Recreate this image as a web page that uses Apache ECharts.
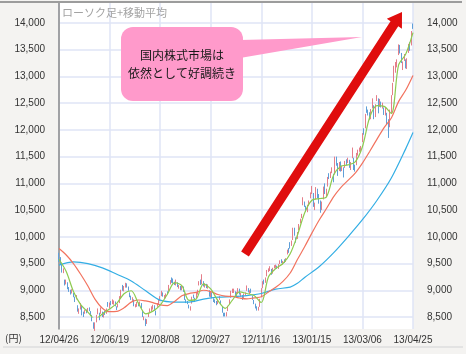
<!DOCTYPE html>
<html>
<head>
<meta charset="utf-8">
<script src="https://cdn.jsdelivr.net/npm/echarts@6/dist/echarts.min.js"></script>
<style>
  html, body { margin: 0; padding: 0; background: #f4f3f1; }
  #chart { width: 466px; height: 354px; }
</style>
</head>
<body>
<div id="chart"></div>
<script>
// tick labels shown under the plot (every 35 trading days)
let dateTicks = ['12/04/26', '12/06/19', '12/08/08', '12/09/27', '12/11/16', '13/01/15', '13/03/06', '13/04/25'];
let yTicks = [8500, 9000, 9500, 10000, 10500, 11000, 11500, 12000, 12500, 13000, 13500, 14000];

// daily candles: [open, close, low, high]
let candles = [
  [9650,9561,9530,9700],[9580,9520,9480,9620],[9470,9350,9330,9490],[9360,9380,9320,9410],[9180,9119,9090,9200],
  [9140,9181,9110,9200],[9120,9045,9020,9150],[9030,9009,8970,9060],[9000,8953,8920,9010],[8970,8973,8940,9020],
  [8930,8900,8870,8950],[8860,8801,8780,8880],[8850,8876,8830,8910],[8700,8611,8600,8720],[8620,8633,8560,8660],
  [8660,8729,8640,8760],[8700,8556,8530,8710],[8570,8563,8500,8600],[8580,8593,8560,8630],[8610,8593,8570,8640],
  [8600,8657,8590,8670],[8660,8633,8610,8680],[8600,8542,8520,8610],[8520,8440,8420,8540],[8380,8295,8280,8400],
  [8290,8383,8240,8400],[8420,8533,8400,8540],[8560,8639,8550,8660],[8560,8459,8440,8580],[8580,8624,8560,8680],
  [8560,8536,8500,8600],[8510,8568,8490,8590],[8600,8568,8540,8620],[8590,8647,8560,8660],[8750,8721,8690,8780],
  [8680,8752,8660,8770],[8770,8753,8720,8800],[8760,8824,8740,8830],[8750,8798,8730,8810],[8770,8734,8700,8790],
  [8690,8663,8630,8700],[8700,8730,8680,8750],[8770,8874,8760,8890],[8850,9006,8840,9010],[9080,9003,8990,9100],
  [8990,9066,8980,9080],[9080,9104,9050,9140],[9100,9079,9050,9130],[9060,9020,8990,9070],[8950,8896,8870,8960],
  [8880,8857,8820,8900],[8830,8851,8800,8870],[8820,8720,8700,8830],[8710,8724,8680,8740],[8700,8755,8690,8780],
  [8740,8726,8700,8770],[8740,8766,8720,8790],[8750,8670,8660,8760],[8600,8508,8500,8610],[8460,8488,8440,8510],
  [8460,8365,8330,8470],[8380,8443,8370,8460],[8520,8566,8500,8580],[8620,8636,8590,8660],[8640,8695,8610,8700],
  [8660,8711,8640,8730],[8700,8640,8620,8720],[8600,8555,8530,8620],[8700,8726,8690,8760],[8760,8804,8740,8820],
  [8810,8881,8800,8890],[8900,8978,8890,8990],[8950,8891,8880,8960],[8880,8885,8840,8910],[8870,8929,8850,8940],
  [8960,8947,8920,8980],[8990,9092,8980,9100],[9140,9162,9110,9190],[9180,9171,9140,9240],[9190,9156,9130,9220],
  [9140,9131,9100,9160],[9100,9178,9090,9200],[9130,9070,9060,9150],[9050,9085,9030,9100],[9060,9033,9000,9080],
  [9020,9073,9000,9090],[9060,8983,8970,9070],[8930,8839,8820,8940],[8800,8783,8760,8830],[8790,8775,8740,8800],
  [8720,8679,8660,8730],[8640,8680,8620,8700],[8760,8871,8750,8880],[8900,8869,8850,8920],[8840,8807,8780,8860],
  [8860,8959,8850,8970],[8940,8995,8920,9010],[9100,9159,9090,9170],[9180,9123,9100,9200],[9130,9232,9110,9300],
  [9150,9086,9070,9170],[9080,9110,9050,9130],[9100,9069,9040,9120],[9060,9091,9030,9110],[8990,8906,8880,9000],
  [8900,8949,8870,8970],[8950,8870,8850,8960],[8830,8797,8780,8850],[8810,8786,8760,8830],[8790,8746,8720,8800],
  [8760,8824,8740,8840],[8850,8863,8820,8890],[8790,8769,8740,8810],[8680,8596,8580,8690],[8560,8546,8510,8580],
  [8560,8534,8510,8580],[8520,8577,8510,8590],[8620,8701,8610,8710],[8750,8807,8740,8830],[8870,8983,8860,8990],
  [8960,9002,8950,9030],[8990,9010,8950,9030],[8960,8936,8900,8980],[8900,8955,8880,8970],[8970,9015,8950,9040],
  [9010,8933,8920,9030],[8910,8929,8880,8950],[8890,8841,8820,8910],[8850,8928,8840,8940],[8930,8946,8900,8960],
  [9000,9051,8990,9090],[9020,8975,8960,9040],[8960,8975,8930,9000],[9000,8972,8950,9030],[8890,8837,8820,8900],
  [8800,8757,8740,8820],[8740,8676,8660,8750],[8690,8661,8620,8700],[8650,8664,8620,8690],[8700,8829,8690,8840],
  [8880,9024,8870,9040],[9050,9153,9040,9170],[9180,9142,9110,9200],[9160,9222,9140,9240],[9270,9366,9260,9380],
  [9380,9388,9340,9410],[9380,9423,9360,9450],[9380,9308,9290,9400],[9330,9400,9310,9420],[9440,9446,9410,9470],
  [9450,9458,9420,9480],[9440,9432,9400,9460],[9420,9468,9400,9490],[9500,9545,9490,9560],[9560,9527,9510,9580],
  [9490,9533,9480,9550],[9560,9525,9510,9580],[9540,9581,9530,9600],[9680,9743,9670,9760],[9760,9737,9700,9790],
  [9880,9828,9780,9900],[9850,9923,9830,9930],[9950,10160,9940,10170],[10150,10039,10020,10170],[9960,9940,9890,9990],
  [9980,10080,9960,10090],[10130,10230,10120,10240],[10280,10322,10250,10340],[10380,10395,10350,10430],[10600,10688,10590,10740],
  [10640,10599,10560,10660],[10540,10508,10470,10580],[10480,10578,10460,10600],[10590,10652,10580,10680],[10760,10801,10720,10830],
  [10830,10879,10800,10950],[10800,10600,10560,10820],[10570,10609,10500,10640],[10720,10913,10700,10930],[10880,10747,10720,10900],
  [10760,10709,10620,10800],[10660,10486,10450,10680],[10540,10620,10500,10660],[10720,10926,10700,10940],[10950,10824,10800,11000],
  [10800,10866,10760,10900],[10960,11113,10940,11120],[11160,11138,11080,11190],[11120,11191,11100,11220],[11250,11260,11190,11300],
  [11170,11046,11020,11180],[11180,11463,11170,11500],[11470,11357,11330,11500],[11330,11153,11140,11380],[11240,11370,11230,11400],
  [11390,11251,11220,11410],[11280,11307,11230,11330],[11260,11173,11110,11300],[11300,11407,11290,11420],[11440,11372,11340,11450],
  [11400,11468,11380,11480],[11420,11309,11290,11440],[11290,11385,11250,11400],[11480,11662,11470,11670],[11440,11398,11250,11480],
  [11300,11254,11220,11350],[11350,11559,11340,11570],[11580,11606,11520,11630],[11640,11652,11590,11670],[11650,11683,11600,11700],
  [11780,11932,11770,11940],[11990,11968,11910,12030],[12040,12283,12030,12300],[12420,12349,12320,12440],[12340,12314,12270,12380],
  [12300,12239,12190,12330],[12220,12381,12200,12390],[12420,12560,12400,12590],[12450,12220,12200,12460],[12250,12468,12240,12480],
  [12560,12635,12540,12650],[12580,12338,12310,12590],[12450,12546,12430,12580],[12510,12493,12420,12530],[12460,12494,12400,12510],
  [12400,12336,12280,12420],[12300,12398,12270,12420],[12300,12136,12100,12320],[12140,12004,11850,12200],[12090,12362,12050,12380],
  [12360,12635,12310,12650],[12700,12834,12650,12880],[12920,13193,12900,13200],[13180,13193,13070,13270],[13220,13288,13170,13320],
  [13430,13549,13400,13600],[13580,13486,13430,13590],[13420,13276,13250,13440],[13200,13221,13120,13280],[13330,13383,13290,13420],
  [13290,13221,13150,13320],[13180,13317,13140,13340],[13470,13568,13440,13610],[13630,13529,13480,13640],[13610,13843,13580,13850],
  [13970,13926,13890,13990]
];

// moving averages: [day index, value]
let ma5 = [[0,9580],[5,9350],[10,8976],[15,8730],[20,8592],[25,8459],[30,8558],[35,8651],[40,8754],[45,8936],
  [50,8991],[55,8755],[60,8559],[65,8610],[70,8721],[75,8926],[80,9142],[85,9088],[90,8812],[95,8837],
  [100,9119],[105,9025],[110,8805],[115,8662],[120,8814],[125,8970],[130,8939],[135,8903],[140,8771],[145,9254],
  [150,9407],[155,9501],[160,9683],[165,10028],[170,10447],[175,10684],[180,10716],[185,10744],[190,11150],[195,11319],
  [200,11345],[205,11402],[210,11686],[215,12231],[220,12453],[225,12441],[230,12307],[235,13211],[240,13420],[245,13820]];
let ma25 = [[0,9780],[5,9660],[10,9500],[15,9300],[20,9080],[25,8830],[30,8665],[35,8600],[40,8605],[45,8672],
  [50,8778],[55,8818],[60,8800],[65,8770],[70,8727],[75,8714],[80,8792],[85,8898],[90,8938],[95,8961],
  [100,9000],[105,8976],[110,8920],[115,8889],[120,8885],[125,8855],[130,8838],[135,8858],[140,8879],[145,8967],
  [150,9055],[155,9167],[160,9323],[165,9575],[170,9813],[175,10069],[180,10311],[185,10524],[190,10748],[195,10922],
  [200,11055],[205,11192],[210,11380],[215,11597],[220,11823],[225,12043],[230,12224],[235,12529],[240,12746],[245,13020]];
let ma75 = [[0,9470],[10,9530],[20,9500],[30,9420],[40,9300],[50,9175],[60,8990],[70,8815],[80,8780],[90,8780],
  [100,8835],[110,8870],[120,8880],[130,8900],[140,8940],[150,9020],[160,9060],[165,9130],[170,9240],[180,9440],
  [190,9700],[200,10000],[210,10320],[220,10680],[230,11100],[240,11650],[245,11950]];

let days = candles.map(function(d, i) { return i; });

let gridLine = { color: '#dfe5f6', width: 1.5 };
let labelFont = { fontSize: 10, color: '#333', fontFamily: 'Liberation Sans' };

// red arrow polygon
function arrowPoints(t, p, w, len, head) {
  let dx = p[0] - t[0], dy = p[1] - t[1];
  let l = Math.sqrt(dx * dx + dy * dy);
  let ux = dx / l, uy = dy / l, nx = -uy, ny = ux;
  let bx = p[0] - ux * len, by = p[1] - uy * len;
  return [
    [t[0] + nx * w, t[1] + ny * w], [bx + nx * w, by + ny * w], [bx + nx * head, by + ny * head],
    p, [bx - nx * head, by - ny * head], [bx - nx * w, by - ny * w], [t[0] - nx * w, t[1] - ny * w]
  ];
}

let option = {
  animation: false,
  backgroundColor: '#f4f3f1',
  grid: [
    { left: 59, right: 53, top: 3, bottom: 25, show: true, backgroundColor: '#fff', borderWidth: 0 },
    { left: 59, right: 53, top: 23, bottom: 37 }
  ],
  xAxis: [
    {
      gridIndex: 0, type: 'category', data: days, boundaryGap: false,
      axisLine: { show: false }, axisTick: { show: false },
      axisLabel: Object.assign({
        interval: 34, margin: 6,
        formatter: function(v, i) { return dateTicks[i / 35] || ''; }
      }, labelFont),
      splitLine: { show: true, interval: 34, lineStyle: gridLine }
    },
    { gridIndex: 1, type: 'category', data: days, boundaryGap: false, show: false }
  ],
  yAxis: [
    {
      gridIndex: 0, type: 'value', min: 0, max: 1,
      axisLine: { show: true, lineStyle: { color: '#8a8a8a', width: 1.5 } },
      axisTick: { show: false }, axisLabel: { show: false }, splitLine: { show: false }
    },
    {
      gridIndex: 1, type: 'value', position: 'left', min: yTicks[0], max: yTicks[yTicks.length - 1], interval: 500,
      axisLine: { show: false }, axisTick: { show: false },
      axisLabel: Object.assign({ margin: 14, formatter: function(v) { return v.toLocaleString('en-US'); } }, labelFont),
      splitLine: { show: true, lineStyle: gridLine }
    },
    {
      gridIndex: 1, type: 'value', position: 'right', min: yTicks[0], max: yTicks[yTicks.length - 1], interval: 500,
      axisLine: { show: false }, axisTick: { show: false },
      axisLabel: Object.assign({ margin: 14, formatter: function(v) { return v.toLocaleString('en-US'); } }, labelFont),
      splitLine: { show: false }
    }
  ],
  series: [
    {
      type: 'candlestick', xAxisIndex: 1, yAxisIndex: 1, data: candles, clip: false, barWidth: 1.3,
      itemStyle: { color: '#e57e8a', color0: '#5f9fd8', borderColor: '#e57e8a', borderColor0: '#5f9fd8', borderWidth: 1 }
    },
    {
      type: 'line', xAxisIndex: 1, yAxisIndex: 1, data: ma75, showSymbol: false, smooth: 0.3,
      lineStyle: { color: '#33aee4', width: 1.2 }
    },
    {
      type: 'line', xAxisIndex: 1, yAxisIndex: 1, data: ma25, showSymbol: false, smooth: 0.3,
      lineStyle: { color: '#f2735f', width: 1.2 }
    },
    {
      type: 'line', xAxisIndex: 1, yAxisIndex: 1, data: ma5, showSymbol: false, smooth: 0.3,
      lineStyle: { color: '#8dcb4f', width: 1.2 }
    }
  ],
  graphic: [
    { type: 'line', shape: { x1: 0, y1: 2, x2: 462, y2: 2 }, style: { stroke: '#9c9c9c', lineWidth: 2 }, z: 50 },
    { type: 'rect', shape: { x: 3, y: 346, width: 460, height: 2 }, style: { fill: '#e3e3e3' }, z: 50 },
    {
      type: 'text', left: 62, top: 7, z: 50,
      style: { text: 'ローソク足+移動平均', fill: '#a3a3a3', font: '11px "Noto Sans CJK JP"' }
    },
    {
      type: 'text', left: 5, top: 333, z: 50,
      style: { text: '(円)', fill: '#333', font: '10px "Noto Sans CJK JP"' }
    },
    {
      type: 'polygon', z: 60,
      shape: { points: arrowPoints([245, 254], [402, 12], 4.6, 14, 9) },
      style: { fill: '#e00d0d' }
    },
    { type: 'rect', z: 60, shape: { x: 121, y: 27, width: 122, height: 74, r: 12 }, style: { fill: '#ff9acb' } },
    { type: 'polygon', z: 60, shape: { points: [[240, 40], [362, 37], [240, 58]] }, style: { fill: '#ff9acb' } },
    {
      type: 'text', z: 61, x: 182, y: 64,
      style: {
        text: '国内株式市場は\n依然として好調続き', fill: '#1a1a1a', align: 'center', verticalAlign: 'middle',
        font: '12px "Noto Sans CJK JP"', lineHeight: 18
      }
    }
  ]
};

let myChart = echarts.init(document.getElementById('chart'));
myChart.setOption(option);
</script>
</body>
</html>
